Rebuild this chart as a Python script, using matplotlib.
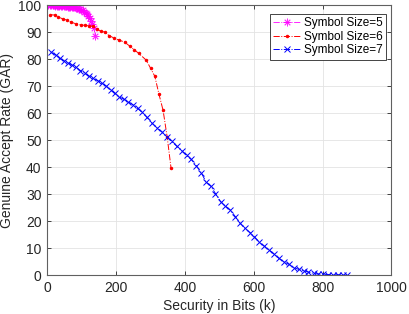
import matplotlib
matplotlib.use("Agg")
import matplotlib.pyplot as plt

# Symbol Size = 5 (magenta)
x5 = [4, 8, 12, 16, 20, 24, 28, 32, 36, 40, 44, 48, 52, 56, 60, 64, 68, 72, 76, 80,
      84, 88, 92, 96, 100, 104, 108, 112, 116, 120, 124, 128, 132, 136, 140]
y5 = [100, 100, 100, 99.9, 99.9, 99.8, 99.8, 99.8, 99.7, 99.7, 99.6, 99.6, 99.5, 99.5,
      99.4, 99.4, 99.3, 99.2, 99.2, 99.1, 99.0, 98.9, 98.7, 98.5, 98.2, 98.0, 97.6,
      97.2, 96.6, 96.0, 95.2, 94.0, 93.0, 91.5, 88.5]

# Symbol Size = 6 (red)
x6 = [10, 22, 32, 46, 59, 71, 85, 99, 111, 123, 134, 145, 156, 167, 180, 194, 209,
      225, 240, 253, 266, 288, 301, 313, 325, 337, 349, 360]
y6 = [96.4, 96.3, 95.7, 94.8, 94.4, 93.6, 93.0, 92.6, 92.5, 92.3, 92.1, 91.0, 90.3,
      90.0, 88.7, 87.8, 87.0, 86.3, 84.8, 83.5, 82.1, 79.6, 76.5, 73.6, 67.0, 61.0,
      51.0, 39.7]

# Symbol Size = 7 (blue)
x7 = [11, 25, 37, 49, 61, 72, 85, 97, 109, 121, 134, 147, 159, 172, 185, 197, 209,
      223, 235, 250, 263, 276, 290, 305, 319, 333, 347, 362, 376, 391, 405, 419, 434,
      448, 461, 475, 489, 504, 518, 532, 547, 561, 575, 590, 602, 616, 631, 645, 659,
      673, 688, 702, 716, 731, 745, 759, 774, 788, 802, 816, 831, 845, 859, 870]
y7 = [82.6, 81.5, 80.2, 79.4, 78.6, 77.8, 76.9, 75.7, 74.7, 73.7, 72.8, 72.0, 71.0,
      70.0, 68.5, 67.3, 66.0, 65.1, 64.2, 63.0, 61.7, 60.3, 58.4, 56.2, 54.6, 53.1,
      51.3, 49.5, 47.8, 46.1, 44.3, 42.8, 40.4, 37.9, 34.6, 33.0, 30.2, 27.2, 25.6,
      24.1, 21.6, 19.1, 17.3, 15.7, 14.2, 12.3, 10.7, 9.3, 7.8, 6.2, 4.9, 4.0, 2.8,
      2.1, 1.6, 1.1, 0.6, 0.4, 0.3, 0.2, 0.1, 0.1, 0.05, 0.0]

labels = ["Symbol Size=5", "Symbol Size=6", "Symbol Size=7"]
xticks = [0, 200, 400, 600, 800, 1000]
yticks = [0, 10, 20, 30, 40, 50, 60, 70, 80, 90, 100]

plt.rcParams['font.family'] = ['Liberation Sans', 'DejaVu Sans']

fig = plt.figure(figsize=(4.09, 3.14), dpi=100)
ax = fig.add_axes([0.115, 0.124, 0.842, 0.86])

ax.plot(x5, y5, linestyle='-.', color='#ff00ff', lw=0.7, marker=(8, 2, 0),
        markersize=5.5, markeredgewidth=0.6, alpha=0.85, label=labels[0])
ax.plot(x6, y6, linestyle='-.', color='#ff0000', lw=0.7, marker='.',
        markersize=3, label=labels[1])
ax.plot(x7, y7, linestyle='-.', color='#0000ff', lw=0.7, marker='x',
        markersize=4.5, markeredgewidth=0.7, label=labels[2])

ax.set_xlim(0, 1000)
ax.set_ylim(0, 100)
ax.set_xticks(xticks)
ax.set_yticks(yticks)
ax.grid(True, color='#e3e3e3', lw=0.6)
ax.set_axisbelow(True)
ax.tick_params(direction='in', top=True, right=True, labelsize=10,
               colors='#262626', length=3, width=0.6, pad=4)
for s in ax.spines.values():
    s.set_color('#606060')
    s.set_linewidth(0.8)

ax.set_xlabel("Security in Bits (k)", fontsize=10, color='#262626', labelpad=3)
ax.set_ylabel("Genuine Accept Rate (GAR)", fontsize=10, color='#262626', labelpad=3)

leg = ax.legend(loc='upper right', fontsize=8.5, frameon=True, fancybox=False,
                edgecolor='#262626', framealpha=1, handlelength=2.3,
                borderpad=0.3, labelspacing=0.12, handletextpad=0.3,
                borderaxespad=0.0, bbox_to_anchor=(0.985, 0.967))
leg.get_frame().set_linewidth(0.6)

fig.savefig("out.png", dpi=100)
